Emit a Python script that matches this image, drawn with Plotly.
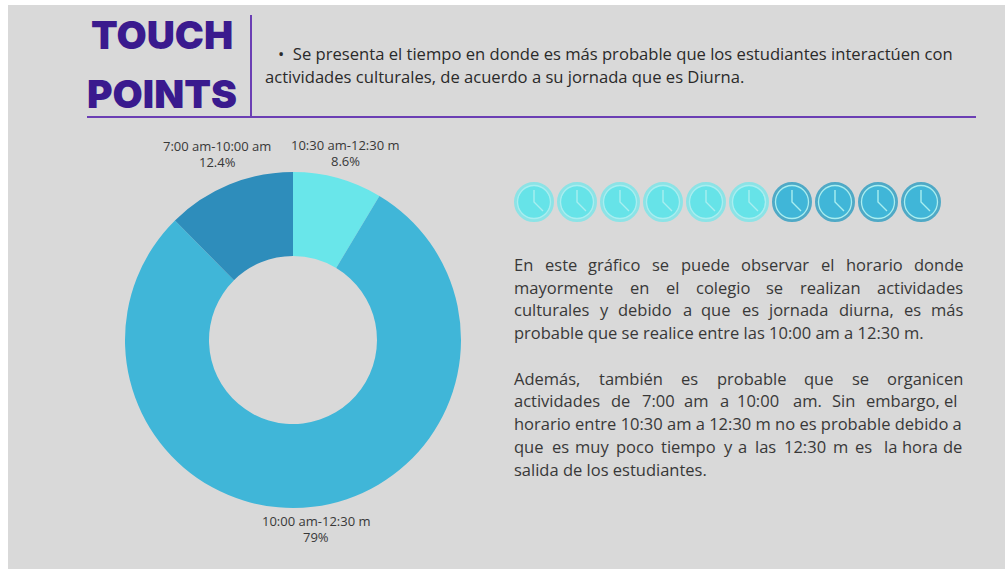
import plotly.graph_objects as go

# ---- data ----
slice_labels = ["10:30 am-12:30 m", "10:00 am-12:30 m", "7:00 am-10:00 am"]
slice_values = [8.6, 79, 12.4]
slice_text = ["8.6%", "79%", "12.4%"]
slice_colors = ["#69E6EA", "#40B6D8", "#2E8DBB"]
clock_series = [6, 4]  # light, dark clocks (out of ten)
clock_x = [534, 577, 620, 663, 706, 749, 792, 835, 878, 921]
title_lines = ["TOUCH", "POINTS"]
intro_1 = "•  Se presenta el tiempo en donde es más probable que los estudiantes interactúen con"
intro_2 = "actividades culturales, de acuerdo a su jornada que es Diurna."
body_lines = [
    (264, [("En",514),("este",545),("gráfico",588),("se",652),("puede",681),("observar",741),("el",821),("horario",846),("donde",914)]),
    (287, [("mayormente",514),("en",630),("el",666),("colegio",696),("se",766),("realizan",800),("actividades",877)]),
    (309, [("culturales",514),("y",600),("debido",618),("a",683),("que",701),("es",742),("jornada",768),("diurna,",839),("es",904),("más",931)]),
    (332, [("probable que se realice entre las 10:00 am a 12:30 m.",514)]),
    (378, [("Además,",514),("también",599),("es",681),("probable",717),("que",804),("se",852),("organicen",887)]),
    (400, [("actividades",514),("de",611),("7:00",642),("am",684),("a",720),("10:00",737),("am.",793),("Sin",832),("embargo,",866),("el",944)]),
    (423, [("horario entre 10:30 am a 12:30 m no es probable debido a",514)]),
    (446, [("que",514),("es",552),("muy",575),("poco",616),("tiempo",661),("y",724),("a",738),("las",755),("12:30",784),("m",833),("es",855),("la",884),("hora",902),("de",943)]),
    (469, [("salida de los estudiantes.",514)]),
]

W, H = 1005, 569
BG = "#D9D9D9"
PURPLE = "#6B3FB4"
INK = "#3A1A8E"
TXT = "#383838"
FONT = "Open Sans"

fig = go.Figure()

# donut
fig.add_trace(go.Pie(
    labels=slice_labels, values=slice_values, sort=False, direction="clockwise",
    rotation=0, hole=0.5, textinfo="none", showlegend=False,
    marker=dict(colors=slice_colors, line=dict(width=0)),
    domain=dict(x=[125 / W, 461 / W], y=[1 - 508 / H, 1 - 172 / H]),
))

# clocks
n_light, n_dark = clock_series
colors_fill = ["#66E3E8"] * n_light + ["#40B6D8"] * n_dark
colors_edge = ["#8CE3E6"] * n_light + ["#4FA9C6"] * n_dark
clock_y = [202] * len(clock_x)
fig.add_trace(go.Scatter(x=clock_x, y=clock_y, mode="markers", showlegend=False, hoverinfo="skip",
                         marker=dict(size=36, color=colors_fill, line=dict(color=colors_edge, width=4))))
fig.add_trace(go.Scatter(x=clock_x, y=clock_y, mode="markers", showlegend=False, hoverinfo="skip",
                         marker=dict(size=33, color="rgba(0,0,0,0)", line=dict(color="#A8EEF0", width=1.3))))
hx, hy = [], []
for x in clock_x:
    hx += [x, x, x + 9, None]
    hy += [190, 202, 211, None]
fig.add_trace(go.Scatter(x=hx, y=hy, mode="lines", showlegend=False, hoverinfo="skip",
                         line=dict(color="#A8EEF0", width=1.4)))

shapes = [
    dict(type="rect", xref="x", yref="y", x0=8, x1=W, y0=5, y1=H, fillcolor=BG, line_width=0, layer="below"),
    dict(type="line", xref="x", yref="y", x0=251, x1=251, y0=15, y1=117, line=dict(color=PURPLE, width=2), layer="below"),
    dict(type="line", xref="x", yref="y", x0=87, x1=976, y0=117, y1=117, line=dict(color=PURPLE, width=2), layer="below"),
]

ann = []
def text(x, y, s, size=15, color=TXT, anchor="left", family=FONT, weight=None):
    f = dict(family=family, size=size, color=color)
    if weight:
        f["weight"] = weight
    ann.append(dict(x=x, y=y, xref="x", yref="y", text=s, showarrow=False, xanchor=anchor,
                    yanchor="middle", font=f, borderpad=0, borderwidth=0))

text(162, 34, title_lines[0], size=39, color=INK, anchor="center", family="Inter", weight=900)
text(162, 93, title_lines[1], size=39, color=INK, anchor="center", family="Inter", weight=900)
text(278, 53, intro_1, size=16.6, color="#2a2a2a")
text(265, 76, intro_2, size=16.6, color="#2a2a2a")

# donut labels
text(345, 144.5, slice_labels[0], size=13, anchor="center")
text(345, 160.5, slice_text[0], size=13, anchor="center")
text(217, 145.5, slice_labels[2], size=13, anchor="center")
text(217, 161.5, slice_text[2], size=13, anchor="center")
text(316, 521, slice_labels[1], size=13, anchor="center")
text(316, 537, slice_text[1], size=13, anchor="center")

for y, words in body_lines:
    for w, x in words:
        text(x, y, w, size=16.5)

fig.update_layout(
    width=W, height=H, autosize=False, margin=dict(l=0, r=0, t=0, b=0),
    paper_bgcolor="white", plot_bgcolor="rgba(0,0,0,0)", showlegend=False,
    xaxis=dict(range=[0, W], visible=False, fixedrange=True),
    yaxis=dict(range=[H, 0], visible=False, fixedrange=True),
    shapes=shapes, annotations=ann,
)
fig.write_html("out.html", config=dict(displayModeBar=False),
               post_script="document.body.style.margin='0';document.body.style.overflow='hidden';")
